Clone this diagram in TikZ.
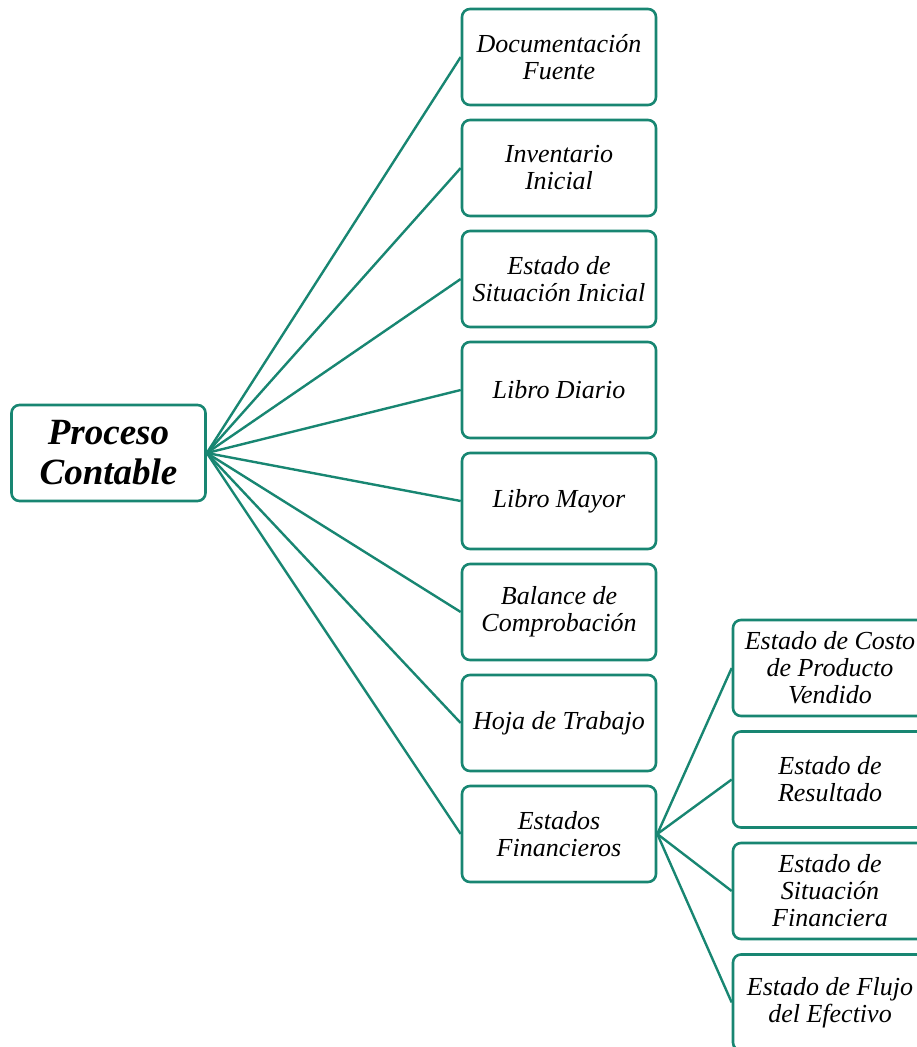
\documentclass[tikz,border=0pt]{standalone}
\usepackage{fontspec}
\setmainfont{Liberation Serif}
\definecolor{Teal}{RGB}{24,134,114}
\newcommand{\BoxW}{194pt}
\newcommand{\BoxH}{96pt}
\tikzset{Box/.style={
    inner sep=0pt,
    minimum width=\BoxW,
    minimum height=\BoxH,
    draw=Teal,
    line width=2.6pt,
    rounded corners=8pt,
    fill=white,
    align=center,
    font=\fontsize{26}{27}\selectfont\itshape,
    }
}

\begin{document}
\begin{tikzpicture}[x=1pt,y=-1pt,
    Link/.style={draw=Teal, line width=2.4pt},
]
\clip (0,0) rectangle (917,1047);
\node [Box, font=\fontsize{37}{40}\selectfont\bfseries\itshape] (root) at (108.5,453) {Proceso\\Contable};
% middle column
\foreach \txt [count=\row] in {{Documentación\\Fuente},{Inventario\\Inicial},
    {Estado de\\Situación Inicial},{Libro Diario},{Libro Mayor},
    {Balance de\\Comprobación},{Hoja de Trabajo},{Estados\\Financieros}}
{
\node [Box] (m\row) at (559,{57+111*(\row-1)}) {\txt};
\draw [Link] (root.east) -- (m\row.west);
}
% right column
\foreach \txt [count=\row] in {{Estado de Costo\\de Producto\\Vendido},{Estado de\\Resultado},
    {Estado de\\Situación\\Financiera},{Estado de Flujo\\del Efectivo}}
{
\node [Box] (r\row) at (830,{668+111.5*(\row-1)}) {\txt};
\draw [Link] (m8.east) -- (r\row.west);
}
\end{tikzpicture}
\end{document}
